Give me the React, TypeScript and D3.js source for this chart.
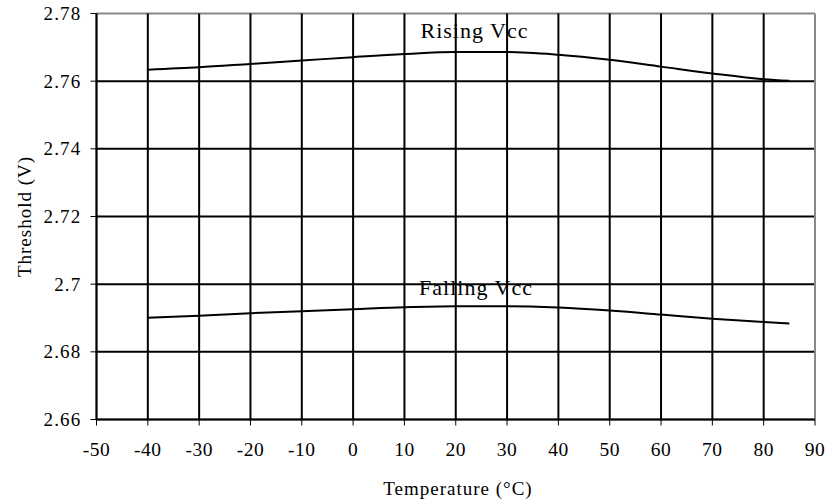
import React from "react";
import * as d3 from "d3";

const temps = [-40, -30, -20, -10, 0, 10, 20, 30, 40, 50, 60, 70, 80, 85];
const rising = [2.7634, 2.7641, 2.7651, 2.7661, 2.7671, 2.7680, 2.7686, 2.7686, 2.7678, 2.7663, 2.7643, 2.7623, 2.7606, 2.7601];
const falling = [2.6901, 2.6907, 2.6914, 2.6920, 2.6926, 2.6932, 2.6935, 2.6935, 2.6931, 2.6922, 2.6910, 2.6898, 2.6888, 2.6884];
const xTicks = [-50, -40, -30, -20, -10, 0, 10, 20, 30, 40, 50, 60, 70, 80, 90];
const yTicks = [2.66, 2.68, 2.7, 2.72, 2.74, 2.76, 2.78];
const yTickLabels = ["2.66", "2.68", "2.7", "2.72", "2.74", "2.76", "2.78"];
const seriesLabels = ["Rising Vcc", "Falling Vcc"];

export default function App() {
  const L = 96.5, R = 815, T = 13.5, B = 419.5;
  const x = d3.scaleLinear().domain([-50, 90]).range([L, R]);
  const y = d3.scaleLinear().domain([2.66, 2.78]).range([B, T]);
  const line = d3
    .line<number>()
    .x((_, i) => x(temps[i]))
    .y((d) => y(d))
    .curve(d3.curveMonotoneX);
  const font = "'Liberation Serif', 'Times New Roman', serif";
  return (
    <svg width={830} height={502} style={{ position: "absolute", left: 0, top: 0 }} fontFamily={font}>
      <rect width={830} height={502} fill="#fff" />
      {yTicks.map((t) => (
        <line key={"gy" + t} x1={L} x2={R} y1={y(t)} y2={y(t)} stroke={t === 2.78 ? "#888" : "#000"} strokeWidth={2} />
      ))}
      {xTicks.map((t) => (
        <line key={"gx" + t} x1={x(t)} x2={x(t)} y1={T} y2={B} stroke={t === 90 ? "#888" : "#000"} strokeWidth={2} />
      ))}
      <line x1={L} x2={L} y1={T} y2={B} stroke="#000" strokeWidth={1.5} />
      <line x1={L} x2={R} y1={B} y2={B} stroke="#000" strokeWidth={1.5} />
      {yTicks.map((t, i) => (
        <g key={"ty" + t}>
          <line x1={L - 6} x2={L} y1={y(t)} y2={y(t)} stroke="#000" strokeWidth={1} />
          <text x={L - 15} y={y(t) + 6.5} textAnchor="end" fontSize={19} letterSpacing={1.2}>{yTickLabels[i]}</text>
        </g>
      ))}
      {xTicks.map((t) => (
        <g key={"tx" + t}>
          <line x1={x(t)} x2={x(t)} y1={B} y2={B + 6} stroke="#000" strokeWidth={1} />
          <text x={x(t)} y={456} textAnchor="middle" fontSize={19.5} letterSpacing={0.5}>{t}</text>
        </g>
      ))}
      <path d={line(rising) || ""} fill="none" stroke="#000" strokeWidth={2} />
      <path d={line(falling) || ""} fill="none" stroke="#000" strokeWidth={2} />
      <text x={474.5} y={38} textAnchor="middle" fontSize={22} letterSpacing={1}>{seriesLabels[0]}</text>
      <text x={476} y={295} textAnchor="middle" fontSize={22} letterSpacing={1}>{seriesLabels[1]}</text>
      <text x={458} y={495} textAnchor="middle" fontSize={19} letterSpacing={1}>Temperature (°C)</text>
      <text transform={`translate(31,${(T + B) / 2}) rotate(-90)`} textAnchor="middle" fontSize={19} letterSpacing={1}>Threshold (V)</text>
    </svg>
  );
}
